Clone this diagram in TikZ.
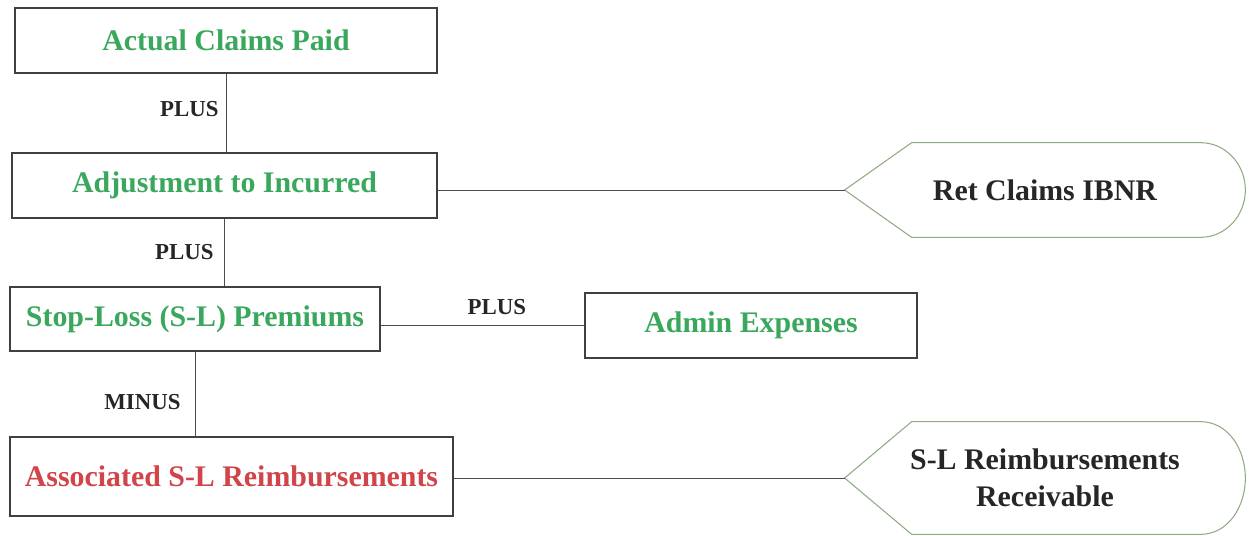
\documentclass[tikz,border=0pt]{standalone}
\usepackage{fontspec}
\setmainfont{Liberation Serif}
\usetikzlibrary{positioning, calc}
\definecolor{itemgreen}{HTML}{3AA85C}
\definecolor{itemred}{HTML}{D0444A}
\definecolor{displine}{HTML}{8FAA84}

\begin{document}
\begin{tikzpicture}[
      box/.style={rectangle, draw=black!75, line width=0.6pt, minimum height=1.3cm,
                  align=center, font=\fontsize{17}{20}\selectfont\bfseries, text=itemgreen},
      disp/.style={rectangle, minimum width=8cm, align=center,
                   font=\fontsize{17}{21}\selectfont\bfseries, text=black!85},
      outline/.style={draw=displine, line width=0.6pt},
      op/.style={font=\fontsize{13}{15}\selectfont\bfseries, text=black!85},
      link/.style={draw=black!70, line width=0.5pt}
    ]
    \useasboundingbox (0,0) rectangle (25,10.7);

    % Left column
    \node[box, minimum width=8.44cm] (paid) at (4.52,9.89) {Actual Claims Paid};
    \node[box, minimum width=8.5cm] (incurred) at (4.49,6.99) {Adjustment to Incurred};
    \node[box, minimum width=7.4cm, minimum height=1.28cm] (premium) at (3.9,4.32) {Stop-Loss (S-L) Premiums};
    \node[box, minimum width=8.86cm, minimum height=1.58cm, text=itemred] (reimb) at (4.63,1.17) {Associated S-L Reimbursements};

    % Right side
    \node[box, minimum width=6.64cm] (admin) at (15.02,4.19) {Admin Expenses};
    \node[disp, minimum height=1.88cm] (ibnr) at (20.9,6.9) {Ret Claims IBNR};
    \node[disp, minimum height=2.24cm] (recv) at (20.9,1.14) {S-L Reimbursements\\Receivable};

    % display outlines
    \draw[outline] (ibnr.west) -- ([xshift=1.34cm]ibnr.north west)
      -- ([xshift=-0.9cm]ibnr.north east) to[out=0, in=90] (ibnr.east)
      to[out=-90, in=0] ([xshift=-0.9cm]ibnr.south east)
      -- ([xshift=1.34cm]ibnr.south west) -- cycle;
    \draw[outline] (recv.west) -- ([xshift=1.34cm]recv.north west)
      -- ([xshift=-0.9cm]recv.north east) to[out=0, in=90] (recv.east)
      to[out=-90, in=0] ([xshift=-0.9cm]recv.south east)
      -- ([xshift=1.34cm]recv.south west) -- cycle;

    \draw[link] (paid.south) -- node[op, left, pos=0.45, inner sep=4pt]{PLUS} (paid.south |- incurred.north);
    \draw[link] (incurred.south) -- node[op, left, inner sep=6pt]{PLUS} (incurred.south |- premium.north);
    \draw[link] (premium.south) -- node[op, left, pos=0.6, inner sep=8pt]{MINUS} (premium.south |- reimb.north);
    \draw[link] (premium.east |- admin.west) -- node[op, above, pos=0.57, inner sep=6pt]{PLUS} (admin.west);
    \draw[link] (incurred.east |- ibnr.west) -- (ibnr.west);
    \draw[link] (reimb.east |- recv.west) -- (recv.west);
  \end{tikzpicture}
\end{document}
